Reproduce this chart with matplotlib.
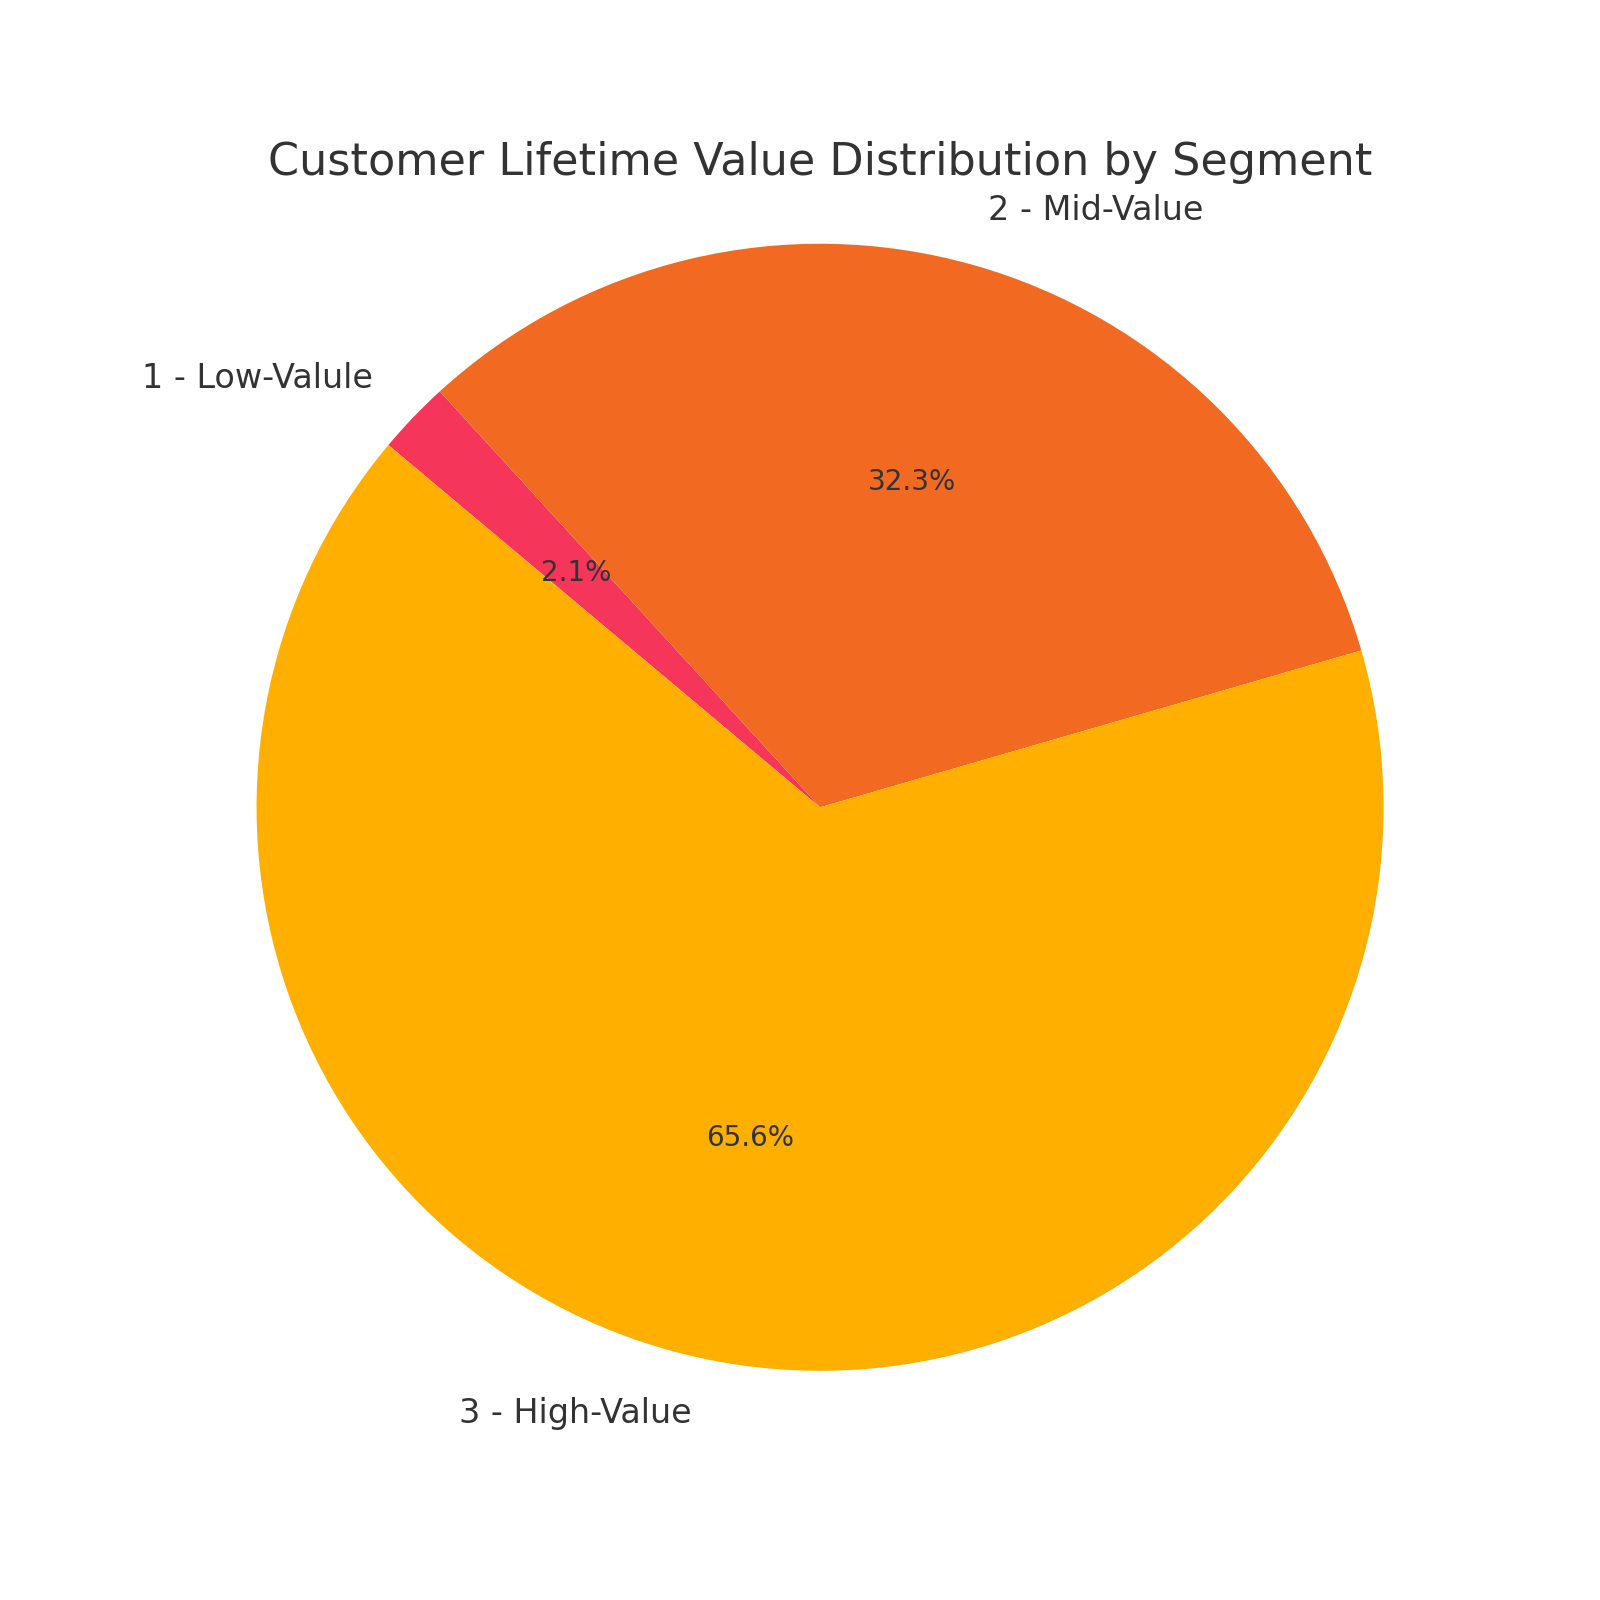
import matplotlib
matplotlib.use('Agg')
import matplotlib.pyplot as plt

# Segment shares of customer lifetime value (percent)
segments = ['1 - Low-Valule', '2 - Mid-Value', '3 - High-Value']
shares = [2.1, 32.3, 65.6]
colors = ['#F5355A', '#F26A22', '#FEAF00']

plt.rcParams['text.color'] = '#333333'

fig = plt.figure(figsize=(8, 8), dpi=200)
ax = fig.add_axes([0.0723, 0.0552, 0.8805, 0.8805])
wedges, texts, autotexts = ax.pie(shares, labels=segments, colors=colors,
                                  autopct='%1.1f%%', startangle=140,
                                  counterclock=False,
                                  textprops={'color': '#333333'})
for t in texts:
    t.set_fontsize(12)
for t in autotexts:
    t.set_fontsize(10)
ax.set_title('Customer Lifetime Value Distribution by Segment', fontsize=16,
             color='#333333', y=0.9368)
plt.savefig('out.png')
